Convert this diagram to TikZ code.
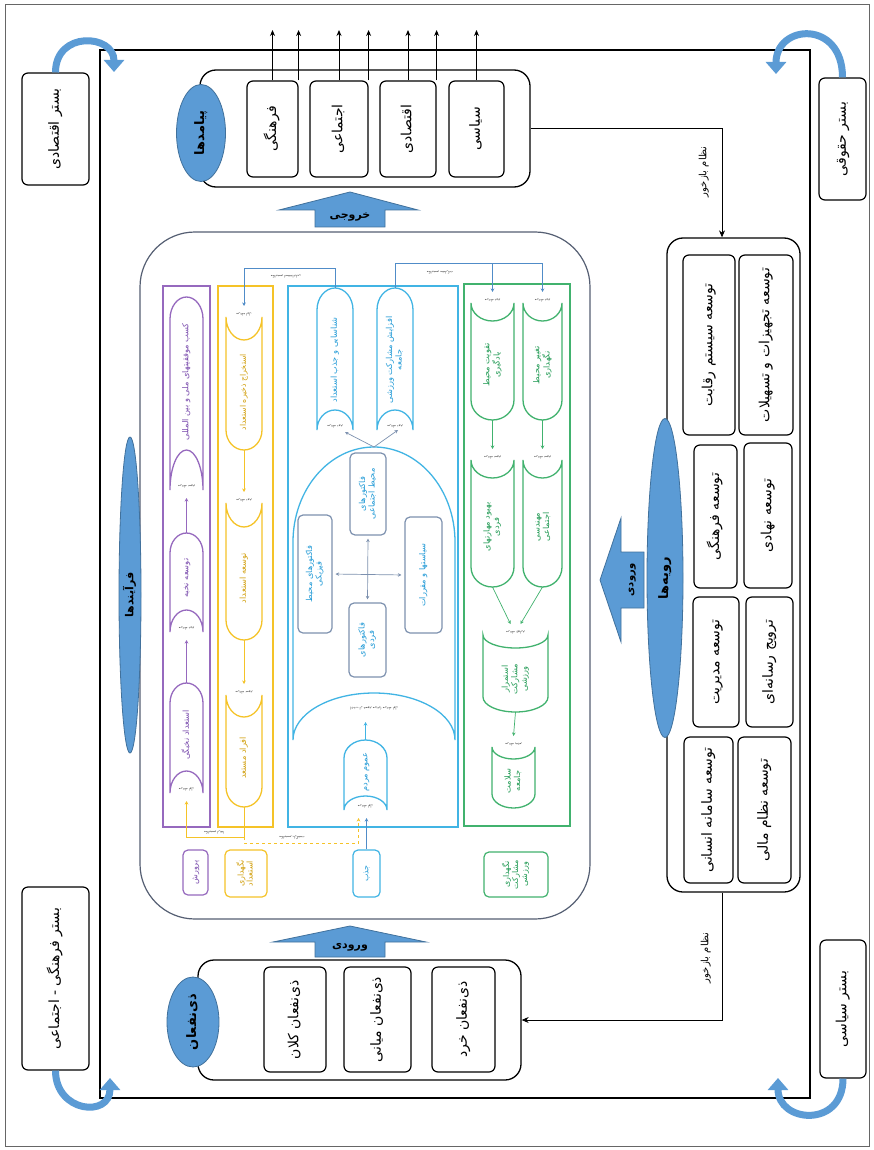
\documentclass[tikz,border=0pt]{standalone}
\usepackage{fontspec}
\usepackage{graphicx}
\usetikzlibrary{arrows.meta,shapes.geometric,fit}
\newfontfamily\farsi[Script=Arabic]{DejaVu Sans}
\TeXXeTstate=1
\newcommand{\fa}[1]{{\farsi\beginR #1\endR}}
\newcommand{\vt}[1]{\rotatebox{90}{\begin{tabular}{@{}c@{}}#1\end{tabular}}}
\newcommand{\flip}[1]{\rotatebox{180}{#1}}

\definecolor{oblue}{RGB}{91,155,213}
\definecolor{obluedk}{RGB}{65,113,156}
\definecolor{purp}{RGB}{150,105,190}
\definecolor{purptxt}{RGB}{125,80,175}
\definecolor{yell}{RGB}{245,195,40}
\definecolor{yelltxt}{RGB}{210,160,15}
\definecolor{cyn}{RGB}{65,180,228}
\definecolor{cyntxt}{RGB}{35,155,215}
\definecolor{lnk}{RGB}{80,140,200}
\definecolor{grn}{RGB}{65,178,110}
\definecolor{grntxt}{RGB}{35,155,85}
\definecolor{gbox}{RGB}{125,145,175}
\definecolor{slate}{RGB}{85,95,115}

% box node from two corners
\newcommand{\putbox}[7]{%
  \node[#6, minimum width={(#4-#2)*1pt}, minimum height={(#5-#3)*1pt}] (#1) at ({(#2+#4)/2},{(#3+#5)/2}) {#7};}
% stored data shape, round top, hollow bottom
\newcommand{\shapeA}[9]{%
  \draw[draw=#8, line width=1.3pt] (#2,#5) -- (#2,#4+#6)
    arc[start angle=180, end angle=0, x radius={(#3-#2)/2*1pt}, y radius=#6pt]
    -- (#3,#5)
    arc[start angle=0, end angle=180, x radius={(#3-#2)/2*1pt}, y radius=#7pt] -- cycle;
  \coordinate (#1-top) at ({(#2+#3)/2},#4);
  \coordinate (#1-bot) at ({(#2+#3)/2},#5-#7);
  \coordinate (#1-tip) at ({(#2+#3)/2},#5+8);
  \node[tiny] (#1-lab) at ({(#2+#3)/2},#5-4) {\flip{#9}};
}
% stored data shape, hollow top, round bottom
\newcommand{\shapeB}[9]{%
  \draw[draw=#8, line width=1.3pt] (#2,#4)
    arc[start angle=180, end angle=360, x radius={(#3-#2)/2*1pt}, y radius=#7pt]
    -- (#3,#5-#6)
    arc[start angle=0, end angle=-180, x radius={(#3-#2)/2*1pt}, y radius=#6pt] -- cycle;
  \coordinate (#1-top) at ({(#2+#3)/2},#4);
  \coordinate (#1-bot) at ({(#2+#3)/2},#5);
  \coordinate (#1-tip) at ({(#2+#3)/2},#4-11);
  \node[tiny] (#1-lab) at ({(#2+#3)/2},#4-3) {\flip{#9}};
}

\tikzset{
  box/.style={draw, line width=1.2pt, rounded corners=6pt, inner sep=0pt, font=\fontsize{14}{17}\selectfont},
  hold/.style={draw, line width=1.3pt, rounded corners=16pt, inner sep=0pt},
  blob/.style={ellipse, fill=oblue, draw=obluedk, line width=0.8pt, inner sep=0pt, font=\bfseries\fontsize{13}{15}\selectfont},
  bendarrow/.style={draw=oblue, line width=7pt, -{Triangle[width=20pt,length=12pt]}},
  outarrow/.style={line width=0.9pt, -{Stealth[length=6pt,width=5pt]}},
  fbline/.style={line width=0.9pt, -{Stealth[length=7pt,width=6pt]}},
  fblabel/.style={inner sep=0pt, font=\fontsize{10}{12}\selectfont},
  bigarrow/.style={fill=oblue, draw=obluedk, line width=0.8pt},
  arrtxt/.style={inner sep=0pt, font=\bfseries\fontsize{11}{13}\selectfont},
  col/.style={draw=#1, line width=1.5pt, inner sep=0pt},
  ctxt/.style={text=#1, inner sep=0pt, font=\fontsize{8.2}{9.5}\selectfont},
  fbox/.style={draw=gbox, line width=1.2pt, rounded corners=5pt, inner sep=0pt, text=cyntxt, font=\fontsize{8.2}{9.5}\selectfont},
  tag/.style={draw=#1, line width=1.2pt, rounded corners=5pt, inner sep=0pt, font=\fontsize{8}{9}\selectfont},
  flow/.style={draw=#1, line width=0.7pt, ->},
  tiny/.style={inner sep=0pt, text=black!75, font=\fontsize{3.5}{4}\selectfont},
}

\begin{document}
\begin{tikzpicture}[x=1pt, y=-1pt, >={Stealth[length=3.5pt,width=3.5pt]}]
\fill[white] (0,0) rectangle (874,1150);
\useasboundingbox (0,0) rectangle (874,1150);

% frames
\draw[line width=1pt, black!60] (5,5) rectangle (869,1146);
\draw[line width=1.3pt] (100,50) rectangle (810,1098);

% contexts
\putbox{ecoCtx}{22}{73}{89}{185}{box}{\vt{\fa{بستر اقتصادی}}}
\putbox{lawCtx}{819}{78}{866}{200}{box}{\vt{\fa{بستر حقوقی}}}
\putbox{socCtx}{22}{887}{89}{1070}{box}{\vt{\fa{بستر فرهنگی - اجتماعی}}}
\putbox{polCtx}{820}{940}{866}{1078}{box}{\vt{\fa{بستر سیاسی}}}

\coordinate (ecoTip) at (114,72);
\coordinate (lawTip) at (776,74);
\coordinate (socTip) at (110,1078);
\coordinate (polTip) at (778,1078);
\draw[bendarrow] (ecoCtx.north) .. controls +(0,-42) and +(0,-38) .. (ecoTip);
\draw[bendarrow] (lawCtx.north) .. controls +(0,-58) and +(0,-50) .. (lawTip);
\draw[bendarrow] (socCtx.south) .. controls +(0,42) and +(0,40) .. (socTip);
\draw[bendarrow] (polCtx.south) .. controls +(0,50) and +(0,45) .. (polTip);

% outcomes
\node[hold, fit={(200,70) (530,187)}] (outHold) {};
\putbox{outCul}{247}{81}{298}{177}{box}{\vt{\fa{فرهنگی}}}
\putbox{outSoc}{310}{81}{368}{177}{box}{\vt{\fa{اجتماعی}}}
\putbox{outEco}{380}{81}{436}{177}{box}{\vt{\fa{اقتصادی}}}
\putbox{outPol}{449}{81}{504}{177}{box}{\vt{\fa{سیاسی}}}
\node[blob, minimum width=49pt, minimum height=97pt] (outBlob) at (201,133) {\vt{\fa{پیامدها}}};
\coordinate (topEdge) at (0,30);
\foreach \b in {outCul,outSoc,outEco}{
  \draw[outarrow] (\b.north) -- (\b.north |- topEdge);
  \draw[outarrow] (\b.north east) -- (\b.north east |- topEdge);
}
\draw[outarrow] (outPol.north) -- (outPol.north |- topEdge);

\draw[bigarrow] (315,227) -- (315,210) -- (279,210) -- (350,192) -- (418,210) -- (385,210) -- (385,227) -- cycle;
\node[arrtxt] (outArrTxt) at (350,217) {\fa{خروجی}};

% stakeholders
\node[hold, fit={(198,960) (521,1080)}] (stkHold) {};
\putbox{stkBig}{264}{967}{326}{1072}{box}{\vt{\fa{ذی‌نفعان کلان}}}
\putbox{stkMid}{344}{967}{411}{1072}{box}{\vt{\fa{ذی‌نفعان میانی}}}
\putbox{stkSmall}{432}{967}{495}{1072}{box}{\vt{\fa{ذی‌نفعان خرد}}}
\node[blob, minimum width=52pt, minimum height=90pt] (stkBlob) at (193,1022) {\vt{\fa{ذی‌نفعان}}};

\draw[bigarrow] (315,957) -- (315,942) -- (273,942) -- (350,926) -- (426,942) -- (385,942) -- (385,957) -- cycle;
\node[arrtxt] (inArrTxt) at (350,947) {\fa{ورودی}};

% practices
\node[hold, fit={(667,238) (800,892)}] (prcHold) {};
\putbox{prcComp}{683}{255}{735}{435}{box}{\vt{\fa{توسعه سیستم رقابت}}}
\putbox{prcFac}{739}{255}{793}{435}{box}{\vt{\fa{توسعه تجهیزات و تسهیلات}}}
\putbox{prcCul}{694}{445}{737}{588}{box}{\vt{\fa{توسعه فرهنگی}}}
\putbox{prcInst}{744}{443}{792}{588}{box}{\vt{\fa{توسعه نهادی}}}
\putbox{prcMan}{693}{597}{739}{727}{box}{\vt{\fa{توسعه مدیریت}}}
\putbox{prcMed}{746}{597}{793}{727}{box}{\vt{\fa{ترویج رسانه‌ای}}}
\putbox{prcHum}{684}{737}{733}{883}{box}{\vt{\fa{توسعه سامانه انسانی}}}
\putbox{prcFin}{738}{737}{791}{883}{box}{\vt{\fa{توسعه نظام مالی}}}
\node[blob, minimum width=36pt, minimum height=319pt] (prcBlob) at (665,578) {\vt{\fa{رویه‌ها}}};

\draw[bigarrow] (644,552) -- (621,552) -- (621,518) -- (600,580) -- (621,642) -- (621,608) -- (644,608) -- cycle;
\node[arrtxt, font=\bfseries\fontsize{10}{12}\selectfont] (prcArrTxt) at (631,580) {\vt{\fa{ورودی}}};

% feedback
\coordinate (fbX) at (722,0);
\draw[fbline] (outHold.east) -| (fbX |- prcHold.north);
\draw[fbline] (fbX |- prcHold.south) |- (stkHold.east);
\node[fblabel] (fbTopTxt) at (704,172) {\vt{\fa{نظام بازخور}}};
\node[fblabel] (fbBotTxt) at (706,958) {\vt{\fa{نظام بازخور}}};

% processes
\node[draw=slate, line width=1.2pt, rounded corners=55pt, inner sep=0pt, fit={(140,232) (590,919)}] (core) {};
\node[blob, minimum width=22pt, minimum height=316pt, font=\bfseries\fontsize{11}{13}\selectfont] (coreBlob) at (130,595) {\vt{\fa{فرآیندها}}};

\node[col=purp, fit={(163,286) (210,827)}] (colGrow) {};
\node[col=yell, fit={(218,286) (273,827)}] (colKeep) {};
\node[col=cyn, fit={(288,286) (458,827)}] (colJazb) {};
\node[col=grn, fit={(464,284) (570,826)}] (colStay) {};

\putbox{tagGrow}{183}{850}{208}{895}{tag=purp, text=purptxt}{\vt{\fa{پرورش}}}
\putbox{tagKeep}{225}{850}{267}{897}{tag=yell, text=yelltxt}{\vt{\fa{نگهداری}\\\fa{استعداد}}}
\putbox{tagJazb}{353}{850}{380}{897}{tag=cyn, text=cyntxt}{\vt{\fa{جذب}}}
\putbox{tagStay}{484}{852}{548}{897}{tag=grn, text=grntxt}{\vt{\fa{نگهداری}\\\fa{مشارکت}\\\fa{ورزشی}}}

% purple column
\shapeA{pA}{170}{203}{297}{490}{22}{40}{purp}{\fa{\beginR مرحله سوم\endR}}
\shapeA{pB}{170}{203}{533}{632}{20}{22}{purp}{\fa{\beginR مرحله دوم\endR}}
\shapeA{pC}{170}{203}{683}{793}{20}{22}{purp}{\fa{\beginR مرحله اول\endR}}
\node[ctxt=purptxt] (pAt) at (186.5,382) {\vt{\fa{کسب موفقیتهای ملی و بین المللی}}};
\node[ctxt=purptxt] (pBt) at (186.5,578) {\vt{\fa{توسعه نخبه}}};
\node[ctxt=purptxt] (pCt) at (186.5,735) {\vt{\fa{استعداد نخبگی}}};
\draw[flow=purp] (pB-top) -- (pA-tip);
\draw[flow=purp] (pC-top) -- (pB-tip);

% yellow column
\shapeB{yA}{226}{262}{317}{450}{20}{23}{yell}{\fa{\beginR مرحله اول\endR}}
\shapeB{yB}{226}{262}{503}{640}{20}{24}{yell}{\fa{\beginR مرحله دوم\endR}}
\shapeB{yC}{226}{262}{695}{807}{20}{22}{yell}{\fa{\beginR مرحله سوم\endR}}
\node[ctxt=yelltxt, font=\fontsize{7.8}{9}\selectfont] (yAt) at (244,392) {\vt{\fa{استخراج ذخیره استعداد}}};
\node[ctxt=yelltxt] (yBt) at (244,578) {\vt{\fa{توسعه استعداد}}};
\node[ctxt=yelltxt] (yCt) at (244,758) {\vt{\fa{افراد مستعد}}};
\draw[flow=yell] (yA-bot) -- (yB-tip);
\draw[flow=yell] (yB-bot) -- (yC-tip);

% cyan column
\shapeA{cA}{317}{353}{288}{430}{22}{20}{cyn}{\fa{\beginR مرحله دوم\endR}}
\shapeA{cB}{377}{413}{288}{430}{22}{20}{cyn}{\fa{\beginR مرحله دوم\endR}}
\shapeA{cArch}{293}{455}{447}{740}{95}{47}{cyn}{}
\shapeA{cC}{344}{387}{740}{810}{18}{14}{cyn}{\fa{\beginR مرحله اول\endR}}
\node[ctxt=cyntxt] (cAt) at (335,360) {\vt{\fa{شناسایی و جذب استعداد}}};
\node[ctxt=cyntxt] (cBt) at (395,360) {\vt{\fa{افزایش مشارکت ورزشی}\\\fa{جامعه}}};
\node[ctxt=cyntxt] (cCt) at (365.5,772) {\vt{\fa{عموم مردم}}};
\node[tiny] (cArchTxt) at (374,708) {\flip{\fa{(جذب از عموم مردم) مرحله اول}}};

\putbox{fSoc}{350}{453}{386}{535}{fbox}{\vt{\fa{فاکتورهای}\\\fa{محیط اجتماعی}}}
\putbox{fPhy}{298}{515}{332}{633}{fbox}{\vt{\fa{فاکتورهای محیط}\\\fa{فیزیکی}}}
\putbox{fPol}{405}{517}{442}{633}{fbox}{\vt{\fa{سیاستها و مقررات}}}
\putbox{fInd}{349}{603}{386}{677}{fbox}{\vt{\fa{فاکتورهای}\\\fa{فردی}}}
\draw[flow=gbox, <->, shorten <=3pt, shorten >=3pt] (fSoc.south) -- (fInd.north);
\draw[flow=gbox, <->, shorten <=3pt, shorten >=3pt] (fPhy.east) -- (fPol.west);

\coordinate (cAin) at (345,432);
\coordinate (cBin) at (398,430);
\coordinate (cArchIn) at (365.5,722);
\draw[flow=gbox] (cArch-top) -- (cAin);
\draw[flow=gbox] (cArch-top) -- (cBin);
\draw[flow=cyn] (cC-top) -- (cArchIn);

% green column
\shapeB{gA}{471}{514}{303}{420}{20}{18}{grn}{\fa{\beginR مرحله دوم\endR}}
\shapeB{gB}{523}{562}{303}{420}{20}{18}{grn}{\fa{\beginR مرحله دوم\endR}}
\shapeB{gC}{471}{514}{460}{587}{20}{18}{grn}{\fa{\beginR مرحله سوم\endR}}
\shapeB{gD}{523}{562}{460}{587}{20}{18}{grn}{\fa{\beginR مرحله سوم\endR}}
\shapeB{gE}{483}{548}{635}{712}{15}{13}{grn}{\fa{\beginR مرحله چهارم\endR}}
\shapeB{gF}{492}{535}{747}{808}{14}{12}{grn}{\fa{\beginR مرحله پنجم\endR}}
\node[ctxt=grntxt] (gAt) at (492.5,365) {\vt{\fa{تقویت محیط}\\\fa{یادگیری}}};
\node[ctxt=grntxt] (gBt) at (542.5,365) {\vt{\fa{تغییر محیط}\\\fa{نگهداری}}};
\node[ctxt=grntxt] (gCt) at (492.5,527) {\vt{\fa{بهبود مهارتهای}\\\fa{فردی}}};
\node[ctxt=grntxt] (gDt) at (542.5,527) {\vt{\fa{مهندسی}\\\fa{اجتماعی}}};
\node[ctxt=grntxt] (gEt) at (515.5,679) {\vt{\fa{استمرار}\\\fa{مشارکت}\\\fa{ورزشی}}};
\node[ctxt=grntxt] (gFt) at (513.5,781) {\vt{\fa{سلامت}\\\fa{جامعه}}};
\draw[flow=grn] (gA-bot) -- (gC-tip);
\draw[flow=grn] (gB-bot) -- (gD-tip);
\draw[flow=grn] (gC-bot) -- ([xshift=-5pt]gE-tip);
\draw[flow=grn] (gD-bot) -- ([xshift=5pt]gE-tip);
\draw[flow=grn] (gE-bot) -- (gF-tip);

% links between columns
\coordinate (lnkA) at (0,268);
\coordinate (lnkB) at (0,263);
\draw[flow=lnk] (cA-top) -- (cA-top |- lnkA) -| (yA-tip);
\draw[flow=lnk] (cB-top) -- (cB-top |- lnkB) -| (gB-tip);
\draw[flow=lnk] (gA-tip |- lnkB) -- (gA-tip);
\node[tiny] (lnkAtxt) at (286,276) {\flip{\fa{مکانیسم استعدادیابی}}};
\node[tiny] (lnkBtxt) at (440,272) {\flip{\fa{مکانیسم مشارکت}}};

\coordinate (solY) at (0,837);
\coordinate (dashY) at (0,843);
\draw[flow=yell] (yC-bot) -- (yC-bot |- solY) -| (pC-tip);
\draw[flow=yell, dashed] (yC-bot) -- (yC-bot |- dashY) -| ([xshift=-7pt]cC-tip);
\draw[flow=lnk] (tagJazb.north) -- (tagJazb.north |- cC-tip);
\node[tiny] (solTxt) at (214,832) {\flip{\fa{مکانیسم ارتقا}}};
\node[tiny] (dashTxt) at (292,838) {\flip{\fa{مکانیسم بازگشت}}};
\end{tikzpicture}
\end{document}
